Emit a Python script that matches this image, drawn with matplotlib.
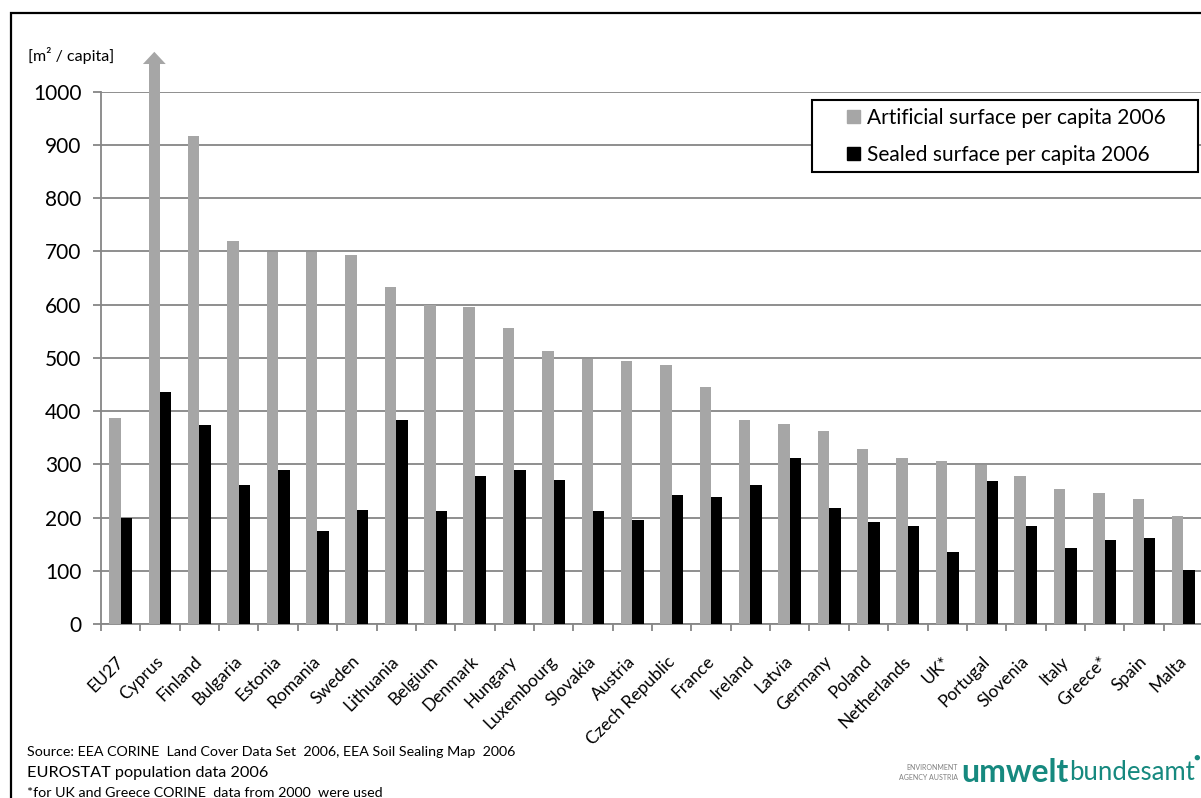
import numpy as np
import matplotlib
matplotlib.use("Agg")
import matplotlib.pyplot as plt
from matplotlib.patches import Patch, Rectangle
from matplotlib.transforms import ScaledTranslation

plt.rcParams['font.family'] = ['Lato', 'DejaVu Sans']

# -------------------------------
# DATA (m² per capita, 2006)
# -------------------------------
countries = ["EU27", "Cyprus", "Finland", "Bulgaria", "Estonia", "Romania", "Sweden",
             "Lithuania", "Belgium", "Denmark", "Hungary", "Luxembourg", "Slovakia",
             "Austria", "Czech Republic", "France", "Ireland", "Latvia", "Germany",
             "Poland", "Netherlands", "UK*", "Portugal", "Slovenia", "Italy", "Greece*",
             "Spain", "Malta"]

# Cyprus goes off the scale, only the visible part is kept here
artificial = [387, 1055, 916, 719, 699, 699, 693, 633, 599, 596, 556, 513, 498,
              494, 487, 446, 384, 375, 363, 328, 311, 307, 298, 278, 253, 247, 234, 202]
sealed = [199, 436, 374, 262, 289, 175, 214, 384, 213, 278, 290, 270, 213,
          195, 243, 238, 262, 311, 218, 192, 185, 135, 268, 185, 143, 157, 162, 101]

yticks = [0, 100, 200, 300, 400, 500, 600, 700, 800, 900, 1000]
ylabel = "[m² / capita]"
series_names = ["Artificial surface per capita 2006", "Sealed surface per capita 2006"]

grey = "#a6a6a6"
line_col = "#868686"

# -------------------------------
# PLOT
# -------------------------------
fig = plt.figure(figsize=(12.01, 7.98), dpi=100)
ax = fig.add_axes([101 / 1201, 174 / 798, 1102 / 1201, 532.3 / 798])

x = np.arange(len(countries))
w = 0.29
ax.bar(x - w / 2, artificial, w, color=grey, zorder=3, clip_on=False)
ax.bar(x + w / 2, sealed, w, color="black", zorder=3)

# arrow head on the Cyprus bar (off the scale)
i_cy = countries.index("Cyprus")
cx = x[i_cy] - w / 2
top = artificial[i_cy]
ax.fill([cx - w, cx + w, cx], [top - 3, top - 3, top + 20], color=grey,
        clip_on=False, zorder=3, lw=0)

ax.set_xlim(-0.5, len(countries) - 0.5)
ax.set_ylim(0, 1000)
ax.set_yticks(yticks)
ax.yaxis.grid(True, color=line_col, lw=1.3, zorder=0)
ax.set_axisbelow(True)

for s in ["top", "right"]:
    ax.spines[s].set_visible(False)
for s in ["left", "bottom"]:
    ax.spines[s].set_color(line_col)
    ax.spines[s].set_linewidth(1.3)

ax.tick_params(axis="y", length=6, width=1.3, color=line_col, labelsize=15, pad=8)

# ticks between categories, labels at the centers
ax.set_xticks(np.arange(-0.5, len(countries), 1.0))
ax.set_xticklabels([])
ax.tick_params(axis="x", which="major", length=5, width=1.3, color=line_col)
ax.set_xticks(x, minor=True)
ax.set_xticklabels(countries, minor=True, rotation=45, ha="right", va="top",
                   fontsize=12.5)
ax.tick_params(axis="x", which="minor", length=0, pad=21)
off = ScaledTranslation(0.06, 0, fig.dpi_scale_trans)
for lab in ax.get_xticklabels(minor=True):
    lab.set_transform(lab.get_transform() + off)

fig.text(28 / 1201, 1 - 55 / 798, ylabel, fontsize=11.5, va="center")

# legend: entries plus a separate square frame
handles = [Patch(color=grey), Patch(color="black")]
leg = fig.legend(handles, series_names, loc="upper left",
                 bbox_to_anchor=(847 / 1201, 1 - 108 / 798),
                 fontsize=15, frameon=False,
                 handlelength=0.62, handleheight=0.62, handletextpad=0.35,
                 borderpad=0, labelspacing=0.8, borderaxespad=0)
leg.set_zorder(6)
fig.add_artist(Rectangle((812 / 1201, 1 - 172 / 798), 386 / 1201, 72 / 798,
                         transform=fig.transFigure, fc="white", ec="black",
                         lw=1.5, zorder=5))

# source notes
fig.text(27 / 1201, 1 - 752 / 798,
         "Source: EEA CORINE  Land Cover Data Set  2006, EEA Soil Sealing Map  2006",
         fontsize=10.3, va="center")
fig.text(27 / 1201, 1 - 773 / 798, "EUROSTAT population data 2006", fontsize=11.7,
         va="center")
fig.text(27 / 1201, 1 - 787 / 798, "*for UK and Greece CORINE  data from 2000  were used",
         fontsize=10.3, va="top")

# logo text
teal = "#16897f"
fig.text(958 / 1201, 1 - 768 / 798, "ENVIRONMENT", fontsize=5, color="#808080",
         va="center", ha="right")
fig.text(958 / 1201, 1 - 777 / 798, "AGENCY AUSTRIA", fontsize=5, color="#808080",
         va="center", ha="right")
t1 = fig.text(961 / 1201, 1 - 772 / 798, "umwelt", fontsize=23, color=teal,
              fontweight="bold", va="center")
fig.canvas.draw()
bb = t1.get_window_extent()
fig.text(bb.x1 / 1201 + 1 / 1201, 1 - 773 / 798, "bundesamt", fontsize=18.5, color=teal,
         fontweight="normal", va="center")
fig.text(1197 / 1201, 1 - 757 / 798, "●", fontsize=8, color=teal, va="center",
         ha="center")

# outer frame
fig.add_artist(Rectangle((11 / 1201, -0.05), 1.2, 1.05 - 12.5 / 798,
                         transform=fig.transFigure, fill=False, ec="black", lw=1.6))

fig.savefig("out.png", dpi=100)
